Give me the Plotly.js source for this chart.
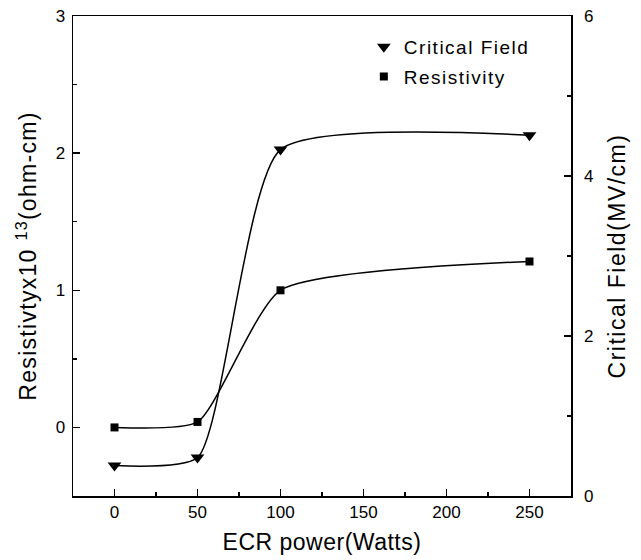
<!DOCTYPE html>
<html>
<head>
<meta charset="utf-8">
<script src="https://cdn.plot.ly/plotly-3.0.1.min.js"></script>
<style>
  html, body { margin: 0; padding: 0; background: #fff; }
  #chart { width: 641px; height: 560px; }
  .xtitle { letter-spacing: 0.5px; }
  .ytitle { letter-spacing: 1.3px; }
  .y2title { letter-spacing: 1.5px; }
  .legendtext { letter-spacing: 1.5px; }
</style>
</head>
<body>
<div id="chart"></div>
<script>
// ---- data ----
const power = [0, 50, 100, 250];                 // ECR power (Watts)
const resistivity = [0.0, 0.04, 1.0, 1.21];      // x10^13 ohm-cm (left axis)
const criticalField = [0.38, 0.48, 4.33, 4.51];  // MV/cm (right axis)

const xTicks = [0, 50, 100, 150, 200, 250];
const yTicks = [0, 1, 2, 3];
const y2Ticks = [0, 2, 4, 6];

const FONT = '"Liberation Sans", Arial, Helvetica, sans-serif';
const black = '#000';
const SMOOTH = 0.55;

const traces = [
  { x: power, y: criticalField, yaxis: 'y2', mode: 'lines', line: { shape: 'spline', smoothing: SMOOTH, color: black, width: 1.5 }, showlegend: false, hoverinfo: 'skip' },
  { x: power, y: resistivity, yaxis: 'y', mode: 'lines', line: { shape: 'spline', smoothing: SMOOTH, color: black, width: 1.5 }, showlegend: false, hoverinfo: 'skip' },
  { x: power, y: criticalField, yaxis: 'y2', mode: 'markers', name: 'Critical Field', legendgroup: 'a',
    marker: { symbol: 'triangle-down', size: 12, color: black } },
  { x: power, y: resistivity, yaxis: 'y', mode: 'markers', name: 'Resistivity', legendgroup: 'b',
    marker: { symbol: 'square', size: 8, color: black } }
];

const axisCommon = {
  showgrid: false, zeroline: false, showline: true, linecolor: black, linewidth: 1.5,
  ticks: 'inside', ticklen: 7, tickwidth: 1.5, tickcolor: black,
  tickfont: { family: FONT, size: 17, color: black },
  minor: { ticks: 'inside', ticklen: 4, tickwidth: 1.5, tickcolor: black }
};

const layout = {
  width: 641, height: 560,
  margin: { l: 73, r: 70, t: 16, b: 64, pad: 0 },
  paper_bgcolor: '#fff', plot_bgcolor: '#fff',
  font: { family: FONT, color: black },
  showlegend: true,
  legend: {
    x: 0.584, y: 0.975, xanchor: 'left', yanchor: 'top',
    bgcolor: 'rgba(0,0,0,0)', borderwidth: 0,
    font: { family: FONT, size: 19, color: black },
    traceorder: 'grouped', tracegroupgap: 2
  },
  xaxis: Object.assign({}, axisCommon, {
    range: [-25, 275], tickmode: 'array', tickvals: xTicks, ticktext: xTicks.map(String),
    minor: Object.assign({}, axisCommon.minor, { tickmode: 'linear', tick0: 25, dtick: 50 }),
    mirror: true,
    title: { text: 'ECR power(Watts)', font: { family: FONT, size: 23, color: black }, standoff: 13 }
  }),
  yaxis: Object.assign({}, axisCommon, {
    range: [-0.5, 3], tickmode: 'array', tickvals: yTicks, ticktext: yTicks.map(String),
    minor: Object.assign({}, axisCommon.minor, { tickmode: 'linear', tick0: -0.5, dtick: 1 }),
    ticklabelstandoff: 3,
    title: { text: 'Resistivtyx10 <sup>13</sup>(ohm-cm)', font: { family: FONT, size: 23, color: black }, standoff: 12 }
  }),
  yaxis2: Object.assign({}, axisCommon, {
    overlaying: 'y', side: 'right', range: [0, 6], tickmode: 'array', tickvals: y2Ticks, ticktext: y2Ticks.map(String),
    minor: Object.assign({}, axisCommon.minor, { tickmode: 'linear', tick0: 1, dtick: 2 }),
    ticklabelstandoff: 8,
    title: { text: 'Critical Field(MV/cm)', font: { family: FONT, size: 23, color: black }, standoff: 16 }
  })
};

Plotly.newPlot('chart', traces, layout, { displayModeBar: false, staticPlot: true });
</script>
</body>
</html>
